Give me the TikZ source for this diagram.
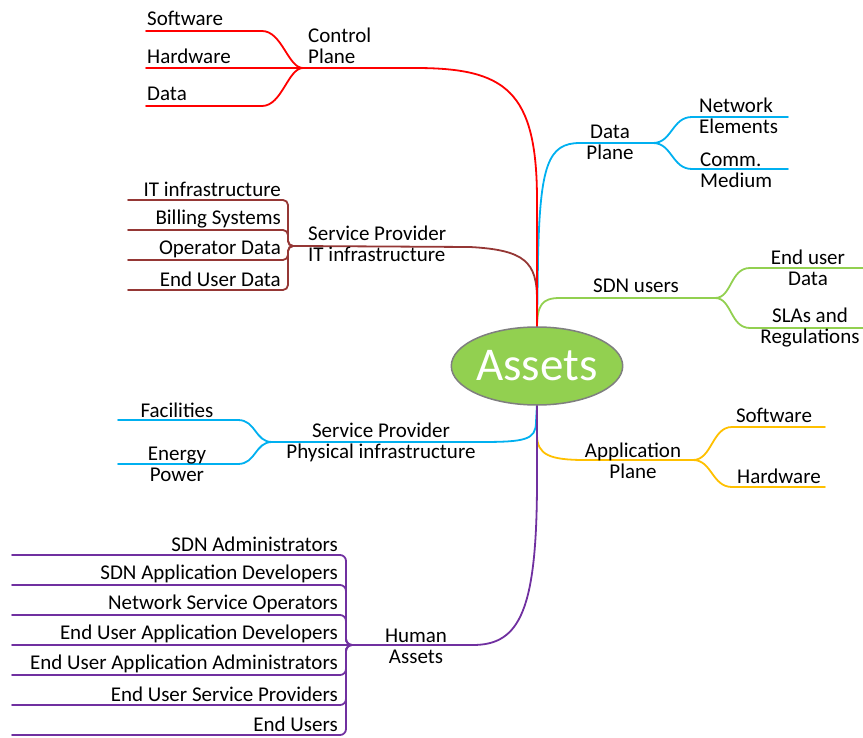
\documentclass[tikz,border=0pt]{standalone}
\usepackage{fontspec}
\setmainfont{Carlito}
\usetikzlibrary{shapes.geometric}
\definecolor{ctrlred}{HTML}{FF0000}
\definecolor{itbrown}{HTML}{953735}
\definecolor{skyblue}{HTML}{00B0F0}
\definecolor{leafgreen}{HTML}{92D050}
\definecolor{appyellow}{HTML}{FFC000}
\definecolor{humanpurple}{HTML}{7030A0}
\definecolor{rimgray}{HTML}{7F7F7F}

\begin{document}
\begin{tikzpicture}[x=1pt,y=-1pt,
	lbl/.style={inner sep=0pt,align=center,font=\fontsize{21}{21}\selectfont},
	branch/.style={line width=1.8pt,line cap=round}]
\useasboundingbox (0,0) rectangle (863,738);

% trunk ends at the centre and the junctions
\coordinate (up) at (537,328);
\coordinate (down) at (537,404);
\coordinate (cj) at (303,68);
\coordinate (ij) at (297,246);
\coordinate (dj) at (653,143);
\coordinate (sj) at (715,298);
\coordinate (pj) at (272,442);
\coordinate (aj) at (693,460);
\coordinate (hj) at (357,645);

% Data Plane
\draw[branch,skyblue] (up) -- (538,260) .. controls (540,165) and (548,143) .. (580,143) -- (dj);
\coordinate (d1) at (788,117);
\coordinate (d2) at (788,169);
\draw[branch,skyblue] (dj) .. controls (672,143) and (672,117) .. (692,117) -- (d1);
\draw[branch,skyblue] (dj) .. controls (672,143) and (672,169) .. (692,169) -- (d2);
\node[lbl,anchor=center] (dpl) at (610,142) {Data\\Plane};
\node[lbl,anchor=west,align=left] (ne) at (699,116) {Network\\Elements};
\node[lbl,anchor=west,align=left] (cm) at (700,170) {Comm.\\Medium};

% SDN users
\draw[branch,leafgreen] (up) .. controls (537,305) and (542,298) .. (560,298) -- (sj);
\coordinate (s1) at (863,268);
\coordinate (s2) at (863,328);
\draw[branch,leafgreen] (sj) .. controls (732,298) and (730,268) .. (750,268) -- (s1);
\draw[branch,leafgreen] (sj) .. controls (732,298) and (730,328) .. (750,328) -- (s2);
\node[lbl] (su) at (636,286) {SDN users};
\node[lbl] (eud) at (808,268) {End user\\Data};
\node[lbl] (sla) at (810,328) {SLAs and\\Regulations};

% Service Provider IT infrastructure
\draw[branch,itbrown] (up) -- (537,300) .. controls (537,262) and (525,250) .. (470,247) -- (ij);
\foreach \txt [count=\i] in {IT infrastructure,Billing Systems,Operator Data,End User Data}{
	\pgfmathsetmacro\yy{170+30*\i}
	\coordinate (il\i) at (128,\yy);
	\draw[branch,itbrown,rounded corners=5pt] (il\i) -- (288,\yy) -- (288,246) -- (ij);
	\node[lbl,anchor=east] (it\i) at (281,\yy-11) {\txt};
}
\node[lbl,anchor=west,align=left] (spit) at (308,244) {Service Provider\\IT infrastructure};

% Control Plane
\draw[branch,ctrlred] (up) -- (537,200) .. controls (537,90) and (505,68) .. (415,68) -- (cj);
\coordinate (c1) at (146,31);
\coordinate (c2) at (146,68);
\coordinate (c3) at (146,106);
\draw[branch,ctrlred] (cj) .. controls (288,68) and (282,31) .. (262,31) -- (c1);
\draw[branch,ctrlred] (cj) -- (c2);
\draw[branch,ctrlred] (cj) .. controls (288,68) and (282,106) .. (262,106) -- (c3);
\node[lbl,anchor=west,align=left] (cpl) at (308,46) {Control\\Plane};
\node[lbl,anchor=west] (csw) at (147,18) {Software};
\node[lbl,anchor=west] (chw) at (147,56) {Hardware};
\node[lbl,anchor=west] (cdt) at (147,94) {Data};

% Service Provider Physical infrastructure
\draw[branch,skyblue] (down) -- (536,422) .. controls (536,440) and (525,442) .. (480,442) -- (pj);
\coordinate (p1) at (118,420);
\coordinate (p2) at (118,464);
\draw[branch,skyblue] (pj) .. controls (255,442) and (256,420) .. (238,420) -- (p1);
\draw[branch,skyblue] (pj) .. controls (255,442) and (256,464) .. (238,464) -- (p2);
\node[lbl] (fac) at (177,410) {Facilities};
\node[lbl] (enp) at (177,464) {Energy\\Power};
\node[lbl] (spph) at (381,442) {Service Provider\\Physical infrastructure};

% Application Plane
\draw[branch,appyellow] (down) -- (537,435) .. controls (537,455) and (550,460) .. (585,460) -- (aj);
\coordinate (a1) at (825,427);
\coordinate (a2) at (825,487);
\draw[branch,appyellow] (aj) .. controls (712,460) and (712,427) .. (732,427) -- (a1);
\draw[branch,appyellow] (aj) .. controls (712,460) and (712,487) .. (732,487) -- (a2);
\node[lbl] (apl) at (633,461) {Application\\Plane};
\node[lbl] (asw) at (774,415) {Software};
\node[lbl] (ahw) at (779,476) {Hardware};

% Human Assets
\draw[branch,humanpurple] (down) -- (537,480) .. controls (537,610) and (520,645) .. (473,645) -- (hj);
\foreach \txt [count=\i] in {SDN Administrators,SDN Application Developers,Network Service Operators,End User Application Developers,End User Application Administrators,End User Service Providers,End Users}{
	\pgfmathsetmacro\yy{525+30*\i}
	\coordinate (hl\i) at (12,\yy);
	\ifnum\i=4
		\draw[branch,humanpurple] (hl\i) -- (hj);
	\else
		\draw[branch,humanpurple,rounded corners=6pt] (hl\i) -- (346,\yy) -- (346,645) -- (hj);
	\fi
	\node[lbl,anchor=east] (hu\i) at (338,\yy-11) {\txt};
}
\node[lbl] (hua) at (416,646) {Human\\Assets};

% the centre
\node[ellipse,fill=leafgreen,draw=rimgray,line width=1.5pt,minimum width=160pt,minimum height=78pt,inner sep=0pt,
	text=white,font=\fontsize{47}{50}\selectfont] (assets) at (537,366) {Assets};

\end{tikzpicture}
\end{document}
